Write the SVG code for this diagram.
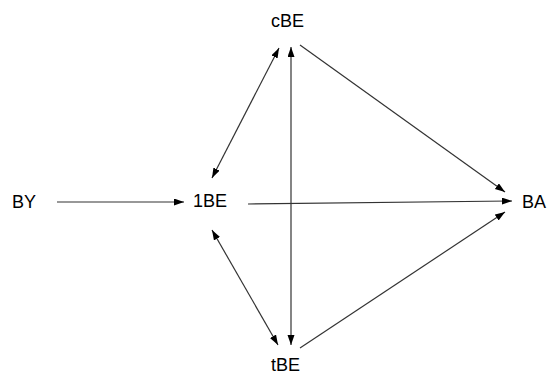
<svg xmlns="http://www.w3.org/2000/svg" width="547" height="374" viewBox="0 0 547 374">
<style>
.lbl{font-family:"Liberation Sans",Arial,sans-serif;font-size:18px;fill:#000}
.edge{stroke:#333;stroke-width:1.2;fill:none}
</style>
<defs>
<marker id="ah" markerUnits="userSpaceOnUse" markerWidth="11" markerHeight="8" refX="10" refY="3.5" orient="auto-start-reverse">
<path d="M0,0 L10,3.5 L0,7 z" fill="#000"/>
</marker>
</defs>
<rect width="547" height="374" fill="#fff"/>
<g id="connectors">
<line class="edge" x1="57" y1="202" x2="184" y2="202" marker-end="url(#ah)"/>
<line class="edge" x1="248" y1="204" x2="512" y2="201" marker-end="url(#ah)"/>
<line class="edge" x1="291" y1="47" x2="291" y2="345" marker-start="url(#ah)" marker-end="url(#ah)"/>
<line class="edge" x1="279" y1="48" x2="212" y2="178" marker-start="url(#ah)" marker-end="url(#ah)"/>
<line class="edge" x1="212" y1="230" x2="278" y2="345" marker-start="url(#ah)" marker-end="url(#ah)"/>
<line class="edge" x1="300" y1="45" x2="505" y2="192" marker-end="url(#ah)"/>
<line class="edge" x1="300" y1="348" x2="505" y2="212" marker-end="url(#ah)"/>
</g>
<g id="BY"><text class="lbl" x="12" y="208">BY</text></g>
<g id="1BE"><text class="lbl" x="193" y="207">1BE</text></g>
<g id="BA"><text class="lbl" x="522" y="208">BA</text></g>
<g id="cBE"><text class="lbl" x="271" y="27">cBE</text></g>
<g id="tBE"><text class="lbl" x="271" y="371">tBE</text></g>
</svg>
